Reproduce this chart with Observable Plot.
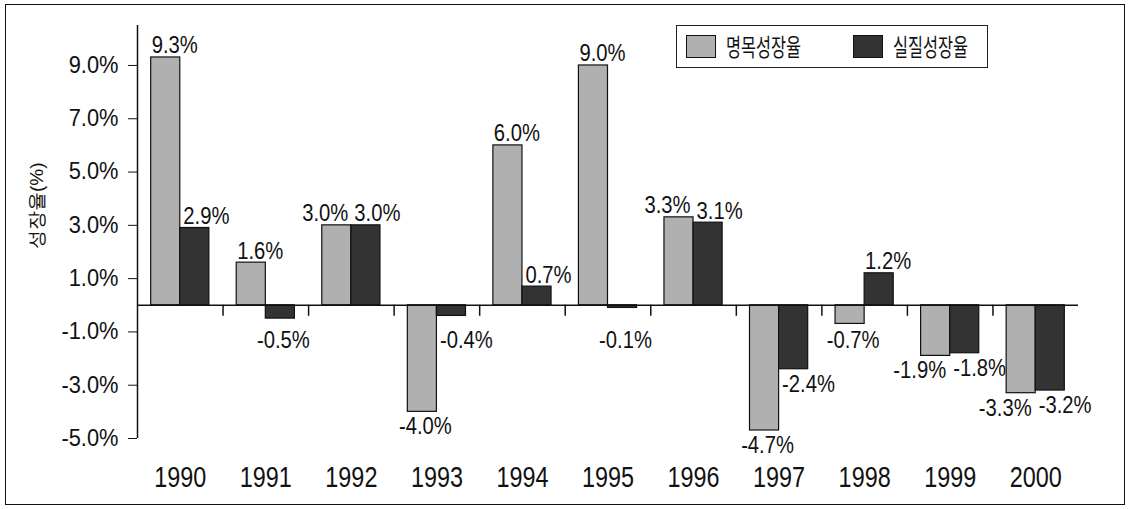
<!DOCTYPE html>
<html>
<head>
<meta charset="utf-8">
<script src="https://cdn.jsdelivr.net/npm/d3@7"></script>
<script src="https://cdn.jsdelivr.net/npm/@observablehq/plot@0.6"></script>
<style>
  html, body { margin: 0; padding: 0; background: #fff; }
  #wrap { position: relative; width: 1130px; height: 509px; overflow: hidden; }
  #frame { position: absolute; left: 5px; top: 4px; width: 1118px; height: 499px; border: 1.5px solid #111; pointer-events: none; }
  #legend { position: absolute; left: 676px; top: 25px; width: 310px; height: 41px; border: 1px solid #222; background: #fff;
            font-family: "Noto Sans CJK KR", sans-serif; font-size: 24px; color: #111; }
  .item { position: absolute; top: 9px; height: 23px; }
  .sw { position: absolute; left: 0; top: 0; width: 30px; height: 23px; border: 1px solid #111; box-sizing: border-box; }
  .lt { position: absolute; left: 40px; top: -7px; white-space: nowrap; transform: scaleX(0.68); transform-origin: left center; line-height: 36px; }
  svg text { font-family: "Liberation Sans", Arial, sans-serif; }
</style>
</head>
<body>
<div id="wrap">
  <div id="chart"></div>
  <div id="legend"></div>
  <div id="frame"></div>
</div>
<script>
const years = [1990, 1991, 1992, 1993, 1994, 1995, 1996, 1997, 1998, 1999, 2000];
const nominalGrowth = [9.3, 1.6, 3.0, -4.0, 6.0, 9.0, 3.3, -4.7, -0.7, -1.9, -3.3];
const realGrowth = [2.9, -0.5, 3.0, -0.4, 0.7, -0.1, 3.1, -2.4, 1.2, -1.8, -3.2];
const seriesNames = ["명목성장율", "실질성장율"];
const seriesColors = ["#b0b0b0", "#333333"];
const yTicks = [-5, -3, -1, 1, 3, 5, 7, 9];
const yLabel = "성장율(%)";

const rows = [];
years.forEach((yr, i) => {
  const n = nominalGrowth[i], r = realGrowth[i];
  const same = Math.sign(n) === Math.sign(r);
  const close = same && Math.abs(n - r) < 1;
  // label mode: "c" centred on bar, "e" end-anchored at group centre, "s" start-anchored at group centre
  rows.push({year: yr, series: seriesNames[0], k: 0, value: n, mode: close ? "e" : "c"});
  rows.push({year: yr, series: seriesNames[1], k: 1, value: r, mode: (close || (same && Math.abs(n) > Math.abs(r))) ? "s" : "c"});
});

const half = 0.34; // bar width in year units
const x1 = d => d.k === 0 ? d.year - half : d.year;
const x2 = d => d.k === 0 ? d.year : d.year + half;
const xc = d => (x1(d) + x2(d)) / 2;
const fmt = d => d.value.toFixed(1) + "%";

const pos = rows.filter(d => d.value >= 0);
const neg = rows.filter(d => d.value < 0);
const LF = 23; // value label font size
const lab = (data, mode, o) => Plot.text(data.filter(d => d.mode === mode), {
  x: mode === "c" ? xc : "year", text: fmt, fontSize: LF, fill: "#111",
  textAnchor: mode === "c" ? "middle" : mode === "e" ? "end" : "start", ...o
});
const negY = d => Math.min(d.value, -0.75); // keep labels of tiny bars clear of the axis

const chart = Plot.plot({
  width: 1130,
  height: 509,
  marginLeft: 137,
  marginRight: 52,
  marginTop: 25,
  marginBottom: 71,
  x: {domain: [years[0] - 0.5, years[years.length - 1] + 0.5]},
  y: {domain: [-5, 10.5]},
  color: {domain: seriesNames, range: seriesColors},
  marks: [
    Plot.axisY({ticks: yTicks, tickFormat: d => d.toFixed(1) + "%", tickSize: 9, tickPadding: 10, fontSize: 23, label: null, stroke: "#111", color: "#111"}),
    Plot.axisX({ticks: years, tickFormat: d => String(d), tickSize: 0, tickPadding: 27, fontSize: 30, label: null, color: "#111"}),
    Plot.text([yLabel], {frameAnchor: "left", dx: -101, dy: 17, rotate: -90, fontSize: 19, fontWeight: 500, fontFamily: "Noto Sans CJK KR", fill: "#111"}),
    Plot.rectY(rows, {x1, x2, y1: 0, y2: "value", fill: "series", stroke: "#111", strokeWidth: 1.2}),
    Plot.ruleY([0], {stroke: "#111", strokeWidth: 1.5}),
    Plot.ruleX([years[0] - 0.5], {stroke: "#111", strokeWidth: 1.5}),
    Plot.ruleX(years.slice(1).map(y => y - 0.5), {x: d => d, y1: 0, y2: 0, insetBottom: -11, stroke: "#111", strokeWidth: 1.5}),
    // positive labels (above bars)
    lab(pos, "c", {y: "value", lineAnchor: "bottom", dy: -4, dx: 9}),
    lab(pos, "e", {y: "value", lineAnchor: "bottom", dy: -4, dx: -3}),
    lab(pos, "s", {y: "value", lineAnchor: "bottom", dy: -4, dx: 3}),
    // negative labels (below bars)
    lab(neg, "c", {y: negY, lineAnchor: "top", dy: 6, dx: 3}),
    lab(neg, "e", {y: negY, lineAnchor: "top", dy: 6, dx: -4}),
    lab(neg, "s", {y: negY, lineAnchor: "top", dy: 6, dx: 3})
  ]
});
document.getElementById("chart").appendChild(chart);

// condense the Latin text horizontally, like the narrow face of the original
function squeeze(sel, s) {
  chart.querySelectorAll(sel).forEach(t => {
    if (t.textContent === yLabel) return;
    const tr = t.getAttribute("transform") || "";
    if (tr) {
      t.setAttribute("transform", tr + ` scale(${s},1)`);
    } else {
      const x = +t.getAttribute("x") || 0;
      t.setAttribute("transform", `translate(${x},0) scale(${s},1) translate(${-x},0)`);
    }
  });
}
squeeze('g[aria-label="x-axis tick label"] text', 0.78);
squeeze('g[aria-label="y-axis tick label"] text', 0.95);
squeeze('g[aria-label="text"] text', 0.88);

const legend = document.getElementById("legend");
const lefts = [9, 176];
seriesNames.forEach((name, i) => {
  const it = document.createElement("div");
  it.className = "item";
  it.style.left = lefts[i] + "px";
  const sw = document.createElement("div");
  sw.className = "sw";
  sw.style.background = seriesColors[i];
  const tx = document.createElement("span");
  tx.className = "lt";
  tx.textContent = name;
  it.appendChild(sw);
  it.appendChild(tx);
  legend.appendChild(it);
});
</script>
</body>
</html>
